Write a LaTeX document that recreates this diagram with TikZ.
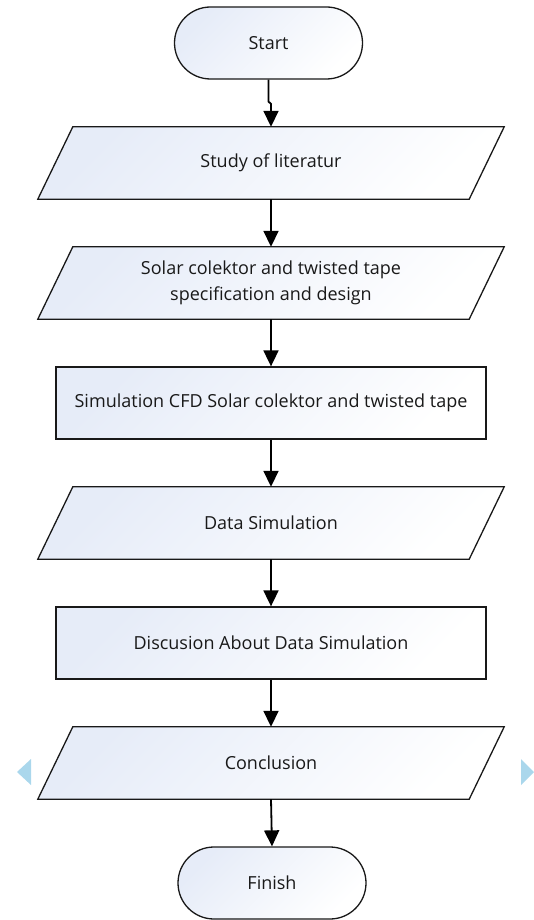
\documentclass[tikz,border=0pt]{standalone}
\usepackage{fontspec}
\setmainfont{Open Sans}
\usetikzlibrary{arrows.meta,calc,backgrounds}
\definecolor{tintc}{RGB}{230,236,248}
\definecolor{navc}{RGB}{170,215,236}
\definecolor{txtc}{RGB}{25,25,25}
\tikzset{
  boxframe/.style={draw=black!90, line width=1.3pt, top color=tintc, bottom color=white, shading angle=45},
  txt/.style={font=\fontsize{18}{26}\selectfont, text=txtc, align=center},
  procbox/.style={boxframe, txt, minimum width=430pt, minimum height=72pt, inner sep=0pt},
  termbox/.style={boxframe, txt, rounded corners=36pt, minimum width=188pt, minimum height=72pt, inner sep=0pt},
  iobox/.style={txt, minimum width=466pt, minimum height=72pt, inner sep=0pt},
  flow/.style={line width=1.8pt, -{Triangle[length=16pt,width=15pt]}},
}
\newcommand\ioshape[1]{%
  \begin{pgfonlayer}{background}
    \path[boxframe] ($(#1.north west)+(35,0)$) -- (#1.north east) -- ($(#1.south east)-(35,0)$) -- (#1.south west) -- cycle;
  \end{pgfonlayer}}
\begin{document}
\begin{tikzpicture}[x=1pt,y=-1pt]
\useasboundingbox (0,0) rectangle (534,920);
\node[termbox] (start) at (268.5,43) {Start};
\node[iobox] (p1) at (271,163) {Study of literatur};
\node[iobox] (p2) at (271,283) {Solar colektor and twisted tape\\specification and design};
\node[procbox] (r1) at (271,403) {Simulation CFD Solar colektor and twisted tape};
\node[iobox] (p3) at (271,523) {Data Simulation};
\node[procbox] (r2) at (271,643) {Discusion About Data Simulation};
\node[iobox] (p4) at (271,763) {Conclusion};
\node[termbox] (finish) at (272,883) {Finish};
\ioshape{p1}
\ioshape{p2}
\ioshape{p3}
\ioshape{p4}
\draw[flow] (start.south) -- ++(0,22) -- ($(p1.north)+(0,-23)$) -- (p1.north);
\draw[flow] (p1.south) -- (p2.north);
\draw[flow] (p2.south) -- (r1.north);
\draw[flow] (r1.south) -- (p3.north);
\draw[flow] (p3.south) -- (r2.north);
\draw[flow] (r2.south) -- (p4.north);
\draw[flow] (p4.south) -- (finish.north);
\fill[navc] (17,772) -- (31,759) -- (31,785) -- cycle;
\fill[navc] (534,772) -- (521,759) -- (521,785) -- cycle;
\end{tikzpicture}
\end{document}
